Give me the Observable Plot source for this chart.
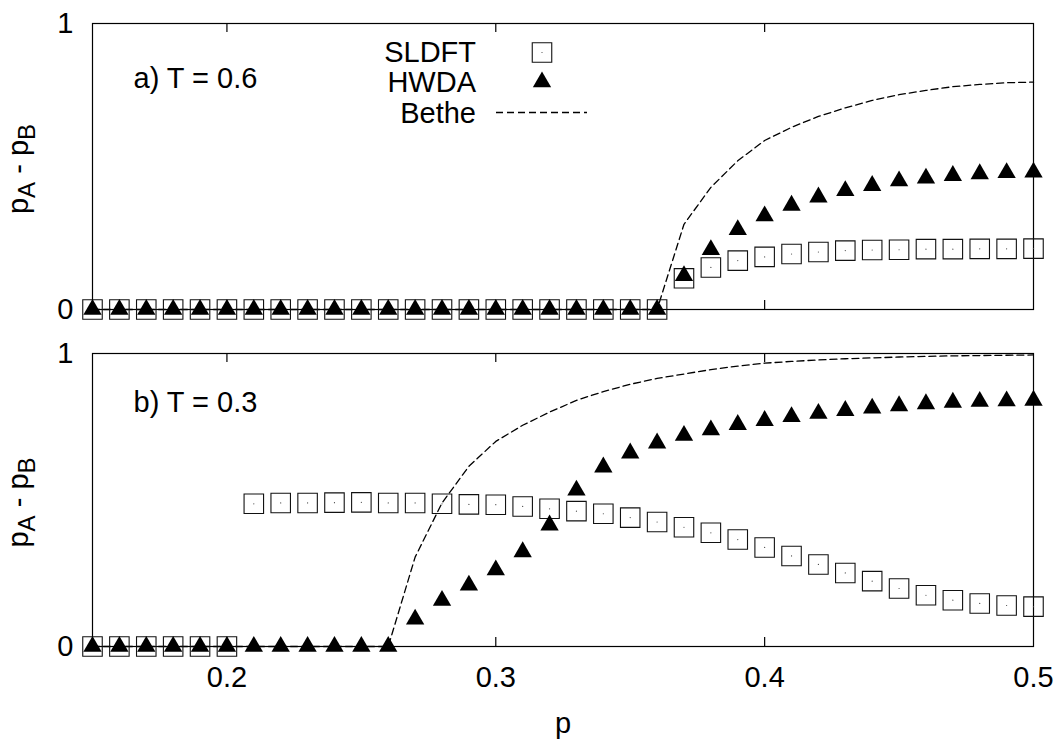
<!DOCTYPE html>
<html>
<head>
<meta charset="utf-8">
<script src="https://cdn.jsdelivr.net/npm/d3@7"></script>
<script src="https://cdn.jsdelivr.net/npm/@observablehq/plot@0.6"></script>
<style>
  body { margin: 0; background: #fff; }
  #chart { position: relative; width: 1057px; height: 739px; }
  #chart svg { display: block; }
</style>
</head>
<body>
<div id="chart"></div>
<script>
// Concentration grid p (both panels share it)
const pGrid = [0.15, 0.16, 0.17, 0.18, 0.19, 0.20, 0.21, 0.22, 0.23, 0.24, 0.25, 0.26,
  0.27, 0.28, 0.29, 0.30, 0.31, 0.32, 0.33, 0.34, 0.35, 0.36, 0.37, 0.38, 0.39, 0.40,
  0.41, 0.42, 0.43, 0.44, 0.45, 0.46, 0.47, 0.48, 0.49, 0.50];

// Panel a) T = 0.6 : order parameter pA - pB
const sldftA = [0, 0, 0, 0, 0, 0, 0, 0, 0, 0, 0, 0, 0, 0, 0, 0, 0, 0, 0, 0, 0, 0,
  0.109, 0.147, 0.171, 0.184, 0.194, 0.201, 0.206, 0.208, 0.209, 0.211, 0.211, 0.212, 0.212, 0.213];
const hwdaA = [0, 0, 0, 0, 0, 0, 0, 0, 0, 0, 0, 0, 0, 0, 0, 0, 0, 0, 0, 0, 0, 0,
  0.118, 0.209, 0.279, 0.327, 0.364, 0.393, 0.415, 0.433, 0.449, 0.459, 0.468, 0.474, 0.478, 0.480];
const betheA = [0, 0, 0, 0, 0, 0, 0, 0, 0, 0, 0, 0, 0, 0, 0, 0, 0, 0, 0, 0, 0, 0,
  0.298, 0.427, 0.520, 0.591, 0.637, 0.675, 0.705, 0.731, 0.751, 0.766, 0.779, 0.787, 0.793, 0.795];

// Panel b) T = 0.3
const sldftB = [0, 0, 0, 0, 0, 0,
  0.487, 0.490, 0.490, 0.491, 0.492, 0.490, 0.490, 0.487, 0.485, 0.484, 0.478, 0.470, 0.462,
  0.453, 0.440, 0.425, 0.407, 0.388, 0.365, 0.338, 0.309, 0.280, 0.251, 0.223, 0.198, 0.175,
  0.158, 0.147, 0.140, 0.136];
const hwdaB = [0, 0, 0, 0, 0, 0, 0, 0, 0, 0, 0, 0,
  0.093, 0.157, 0.209, 0.261, 0.323, 0.414, 0.533, 0.612, 0.660, 0.694, 0.720, 0.739, 0.757,
  0.771, 0.784, 0.795, 0.805, 0.813, 0.821, 0.828, 0.833, 0.836, 0.838, 0.840];
const betheB = [0, 0, 0, 0, 0, 0, 0, 0, 0, 0, 0, 0,
  0.305, 0.490, 0.615, 0.700, 0.755, 0.800, 0.840, 0.870, 0.895, 0.915, 0.930, 0.945, 0.957,
  0.967, 0.973, 0.978, 0.982, 0.985, 0.988, 0.990, 0.992, 0.993, 0.994, 0.995];

const xTicks = [0.2, 0.3, 0.4];
const xTickLabels = [0.2, 0.3, 0.4, 0.5];
const yTicks = [0, 1];
const seriesNames = ["SLDFT", "HWDA", "Bethe"];

const FONT = "'Liberation Sans', Arial, Helvetica, sans-serif";
const FS = 29;
const SUB = 24;
const W = 1057;
const DASH = "7,4";

const rows = (vals) => pGrid.map((p, i) => ({ p, v: vals[i] }));

function panel({ sldft, hwda, bethe, label, height, mt, mb, labelDy, bottomAxis }) {
  const ml = 92, mr = 24;
  const innerH = height - mt - mb;
  const marks = [
    Plot.frame({ stroke: "#000", strokeWidth: 1.2 }),
    // inward major ticks on bottom and top borders
    Plot.tickX(xTicks, { x: (d) => d, insetTop: innerH - 9, stroke: "#000", strokeWidth: 1.2 }),
    Plot.tickX(xTicks, { x: (d) => d, insetBottom: innerH - 9, stroke: "#000", strokeWidth: 1.2 }),
    Plot.axisY(yTicks, { tickSize: 0, tickPadding: 19, label: null, fontSize: FS, tickFormat: (d) => String(d) }),
    Plot.line(rows(bethe), { x: "p", y: "v", stroke: "#000", strokeWidth: 1.3, strokeDasharray: DASH }),
    Plot.dot(rows(sldft), { x: "p", y: "v", symbol: "square", r: 11, stroke: "#111", strokeWidth: 1.1, fill: "none" }),
    Plot.dot(rows(sldft), { x: "p", y: "v", r: 0.6, fill: "#444", stroke: "none" }),
    Plot.dot(rows(hwda), { x: "p", y: "v", symbol: "triangle", r: 6.8, fill: "#000", stroke: "none" }),
    Plot.text([label], { frameAnchor: "top-left", dx: 41, dy: labelDy, textAnchor: "start", lineAnchor: "top", fontSize: FS, fill: "#000" })
  ];
  if (bottomAxis) {
    marks.push(Plot.axisX(xTickLabels, { tickSize: 0, tickPadding: 20, label: null, fontSize: FS, tickFormat: (d) => d.toFixed(1) }));
    marks.push(Plot.text(["p"], { frameAnchor: "bottom", dy: 66, lineAnchor: "top", fontSize: FS, fill: "#000" }));
  }
  const svg = Plot.plot({
    width: W,
    height,
    marginTop: mt,
    marginBottom: mb,
    marginLeft: ml,
    marginRight: mr,
    x: { domain: [0.15, 0.5], axis: null },
    y: { domain: [0, 1], axis: null },
    style: { fontFamily: FONT, fontSize: FS + "px", color: "#000", background: "#fff" },
    marks
  });
  // y axis title with subscripts
  const cy = mt + innerH / 2 + 3;
  const t = d3.select(svg).append("text")
    .attr("transform", `translate(28,${cy}) rotate(-90)`)
    .attr("text-anchor", "middle")
    .attr("font-family", FONT)
    .attr("font-size", FS)
    .attr("fill", "#000");
  t.append("tspan").text("p");
  t.append("tspan").attr("font-size", SUB).attr("dy", 7).text("A");
  t.append("tspan").attr("dy", -7).text(" - p");
  t.append("tspan").attr("font-size", SUB).attr("dy", 7).text("B");
  return svg;
}

const topSvg = panel({ sldft: sldftA, hwda: hwdaA, bethe: betheA, label: "a) T = 0.6",
  height: 330, mt: 23, mb: 21, labelDy: 44, bottomAxis: false });
const botSvg = panel({ sldft: sldftB, hwda: hwdaB, bethe: betheB, label: "b) T = 0.3",
  height: 409, mt: 23, mb: 93, labelDy: 38, bottomAxis: true });

// legend inside the upper panel
const lg = d3.select(topSvg).append("g")
  .attr("font-family", FONT).attr("font-size", FS).attr("fill", "#000");
const keyX = 542, textX = 476;
const baselines = [62, 92, 123];
seriesNames.forEach((name, i) => {
  lg.append("text").attr("x", textX).attr("y", baselines[i]).attr("text-anchor", "end").text(name);
});
const sq = d3.symbol(d3.symbolSquare, Math.PI * 11 * 11)();
lg.append("path").attr("d", sq).attr("transform", `translate(${keyX},52.5)`)
  .attr("fill", "none").attr("stroke", "#111").attr("stroke-width", 1.1);
lg.append("circle").attr("cx", keyX).attr("cy", 52.5).attr("r", 0.6).attr("fill", "#444");
const tri = d3.symbol(d3.symbolTriangle, Math.PI * 6.8 * 6.8)();
lg.append("path").attr("d", tri).attr("transform", `translate(${keyX},82)`).attr("fill", "#000");
lg.append("line").attr("x1", 496).attr("x2", 587).attr("y1", 112.5).attr("y2", 112.5)
  .attr("stroke", "#000").attr("stroke-width", 1.3).attr("stroke-dasharray", DASH);

document.getElementById("chart").append(topSvg, botSvg);
</script>
</body>
</html>
